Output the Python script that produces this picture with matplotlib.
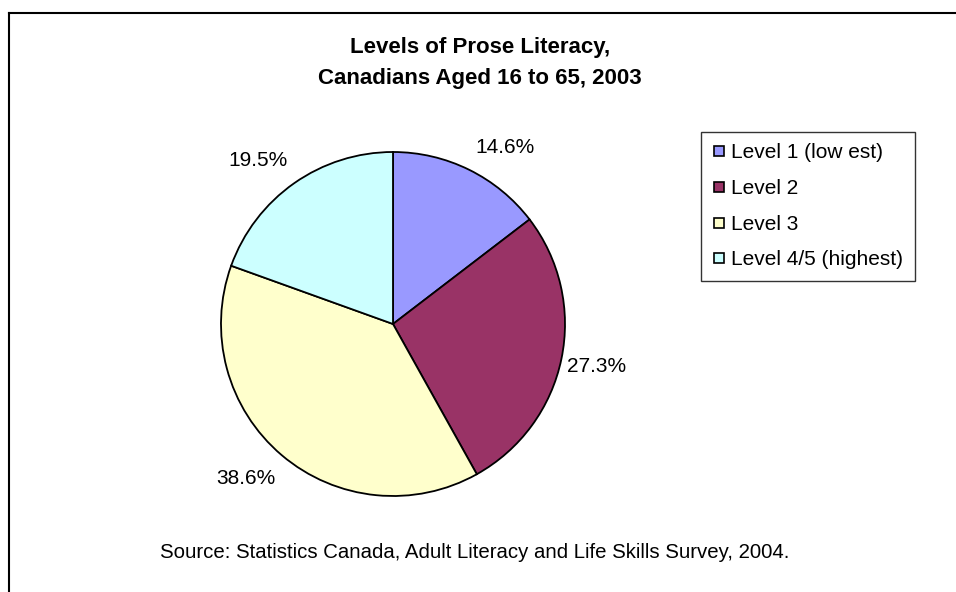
import numpy as np
import matplotlib.pyplot as plt
from matplotlib.lines import Line2D

plt.rcParams['font.family'] = ['Liberation Sans', 'DejaVu Sans']

labels = ['Level 1 (low est)', 'Level 2', 'Level 3', 'Level 4/5 (highest)']
values = [14.6, 27.3, 38.6, 19.5]
colors = ['#9999FF', '#993366', '#FFFFCC', '#CCFFFF']

W, H = 956, 592
fig = plt.figure(figsize=(W / 100, H / 100), dpi=100)

# pie centre ~ (393, 324) px, radius ~172 px
cx, cy, r = 393, 324, 172
ax = fig.add_axes([(cx - r) / W, (H - cy - r) / H, 2 * r / W, 2 * r / H])
wedges, texts = ax.pie(values, colors=colors, startangle=90, counterclock=False,
                       wedgeprops=dict(edgecolor='black', linewidth=1.3))
ax.set_xlim(-1, 1)
ax.set_ylim(-1, 1)
ax.set_aspect('equal')
ax.axis('off')

# excel style labels: text box corner sits just outside the slice edge
for w, v in zip(wedges, values):
    ang = np.deg2rad((w.theta1 + w.theta2) / 2)
    c, s = np.cos(ang), np.sin(ang)
    ha = 'left' if c > 0 else 'right'
    if abs(s) > 0.5:
        va = 'bottom' if s > 0 else 'top'
        dy = 13 if s > 0 else -14
    else:
        va = 'center'
        dy = 40 * s
    dx = 6 if c > 0 else -6
    ax.annotate(f'{v:.1f}%', xy=(c, s), xytext=(dx * 0.72, dy * 0.72),
                textcoords='offset points', ha=ha, va=va, fontsize=15)

fig.text(480 / W, 1 - 63 / H, 'Levels of Prose Literacy,\nCanadians Aged 16 to 65, 2003',
         ha='center', va='center', fontsize=16, fontweight='bold', linespacing=1.65)
fig.text(475 / W, 1 - 552 / H,
         'Source: Statistics Canada, Adult Literacy and Life Skills Survey, 2004.',
         ha='center', va='center', fontsize=14.7)

handles = [Line2D([], [], marker='s', linestyle='none', markersize=7.5,
                  markerfacecolor=c, markeredgecolor='black', markeredgewidth=1.2)
           for c in colors]
leg = fig.legend(handles, labels, loc='upper left',
                 bbox_to_anchor=(701 / W, 1 - 132 / H), fontsize=15,
                 frameon=True, fancybox=False, edgecolor='black',
                 handlelength=0.6, handletextpad=0.3, labelspacing=0.8,
                 borderpad=0.55, borderaxespad=0)
leg.get_frame().set_linewidth(1.0)

# outer frame, only top and left edges are visible in the image
fig.add_artist(Line2D([9 / W, 9 / W], [0, 1 - 13 / H], color='black', linewidth=1.5,
                      transform=fig.transFigure))
fig.add_artist(Line2D([9 / W, 1], [1 - 13 / H, 1 - 13 / H], color='black', linewidth=1.5,
                      transform=fig.transFigure))

fig.savefig('out.png', dpi=100)
